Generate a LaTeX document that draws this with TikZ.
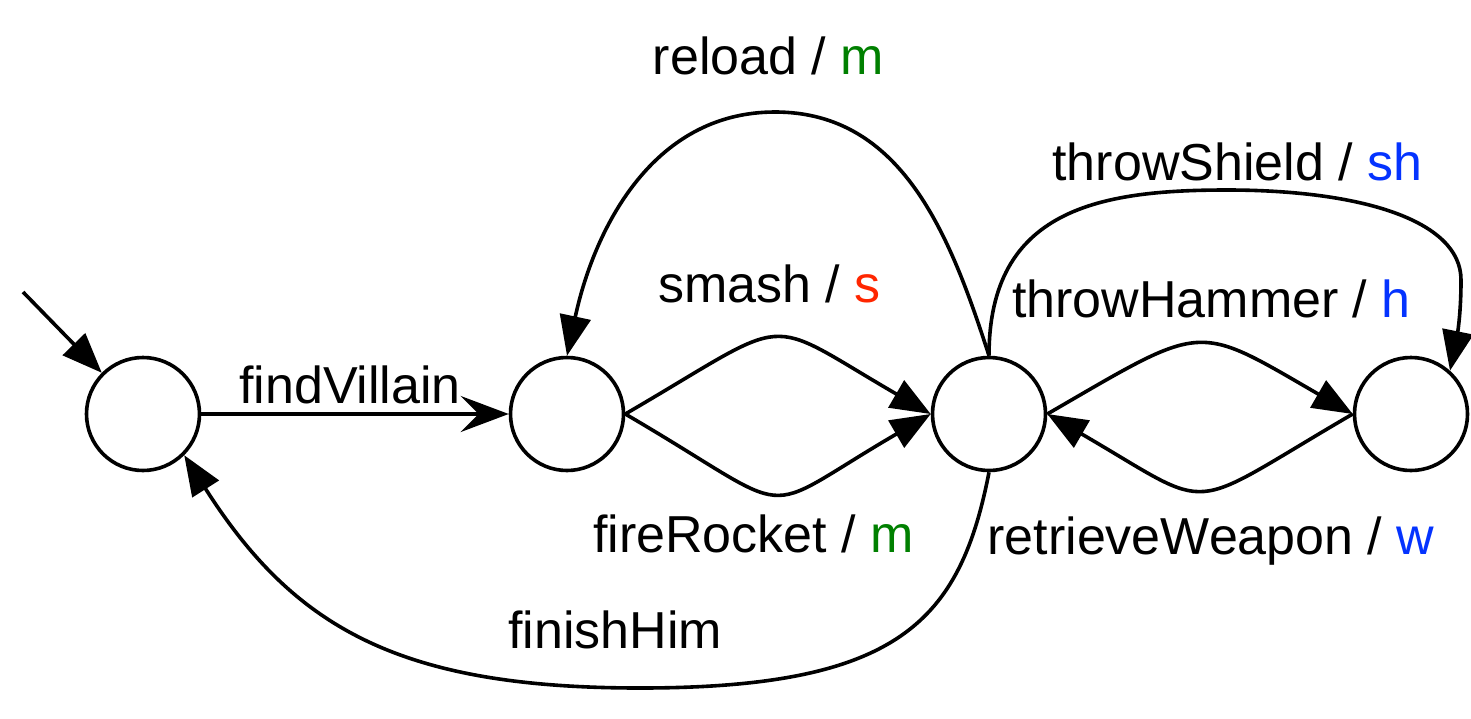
\documentclass[tikz,border=0pt]{standalone}
\usepackage{fontspec}
\setmainfont{Liberation Sans}
\usetikzlibrary{arrows.meta}
\definecolor{mgreen}{RGB}{0,128,0}
\definecolor{mred}{RGB}{255,38,0}
\definecolor{mblue}{RGB}{4,51,255}
\begin{document}
\begin{tikzpicture}[x=1pt,y=-1pt,
  state/.style={circle,draw,line width=3.6pt,minimum size=113pt,inner sep=0pt},
  edge/.style={line width=3.6pt,-{Triangle[length=40pt,width=31pt]}},
  sedge/.style={line width=3.6pt,-{Stealth[length=48pt,width=36pt,inset=18pt]}},
  lbl/.style={anchor=base,inner sep=0pt,font=\fontsize{52}{60}\selectfont}]
\useasboundingbox (0,0) rectangle (1471,718);
% states
\node[state] (n1) at (143,414) {};
\node[state] (n2) at (567,414) {};
\node[state] (n3) at (989,414) {};
\node[state] (n4) at (1411,414) {};
% helper coordinates
\coordinate (init) at (23,292);
\coordinate (rtop) at (775,112);
\coordinate (stop) at (1227,190);
\coordinate (sright) at (1461,280);
\coordinate (fbot) at (640,688);
% connectors
\draw[edge] (init) -- (n1.135);
\draw[sedge] (n1.east) -- (n2.west);
\draw[edge] (n2.east) .. controls +(172,-100) and +(-172,-100) .. (n3.west);
\draw[edge] (n2.east) .. controls +(180,105) and +(-180,105) .. (n3.west);
\draw[edge] (n3.east) .. controls +(159,-92) and +(-159,-92) .. (n4.west);
\draw[edge] (n4.west) .. controls +(-172,100) and +(172,100) .. (n3.east);
\draw[edge] (n3.north) .. controls +(-39,-121) and +(127,0) .. (rtop)
  .. controls +(-125,0) and +(26,-122) .. (n2.north);
\draw[edge] (n3.north) .. controls +(0,-147) and +(-127,0) .. (stop)
  .. controls +(133,0) and +(0,-60) .. (sright)
  .. controls +(0,40) and +(6,-30) .. (n4.48);
\draw[edge] (n3.south) .. controls +(-29,148) and +(260,0) .. (fbot)
  .. controls +(-240,0) and +(110,173) .. (n1.-45);
% labels
\node[lbl] (lfind) at (350,403) {findVillain};
\node[lbl] (lreload) at (768.5,74) {reload / \textcolor{mgreen}{m}};
\node[lbl] (lsmash) at (769.5,302) {smash / \textcolor{mred}{s}};
\node[lbl] (lfire) at (753.5,552) {fireRocket / \textcolor{mgreen}{m}};
\node[lbl] (lshield) at (1237.5,180) {throwShield / \textcolor{mblue}{sh}};
\node[lbl] (lhammer) at (1211.5,317) {throwHammer / \textcolor{mblue}{h}};
\node[lbl] (lretr) at (1211,554) {retrieveWeapon / \textcolor{mblue}{w}};
\node[lbl] (lfinish) at (615,648) {finishHim};
\end{tikzpicture}
\end{document}
